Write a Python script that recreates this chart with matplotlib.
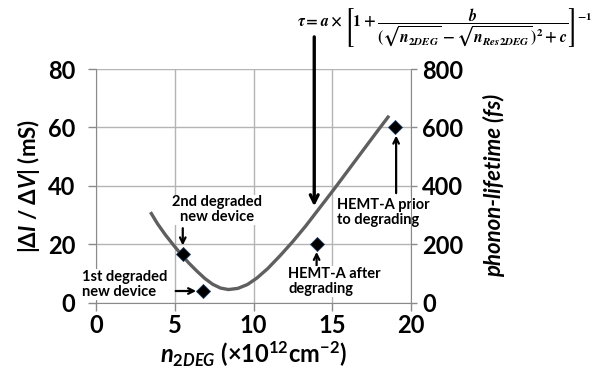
import matplotlib.pyplot as plt

plt.rcParams["font.family"] = ["Lato", "DejaVu Sans"]
plt.rcParams["font.weight"] = "bold"
plt.rcParams["axes.labelweight"] = "bold"
plt.rcParams["mathtext.fontset"] = "custom"
plt.rcParams["mathtext.it"] = "Lato:italic:bold"
plt.rcParams["mathtext.rm"] = "Lato:bold"
plt.rcParams["mathtext.bf"] = "Lato:bold"

# measured devices, |dI/dV| in mS (left axis)
device_n = [6.8, 5.5, 14.0, 19.0]
device_didv = [4.0, 16.5, 20.0, 60.0]

# fitted phonon lifetime, fs (right axis)
fit_n = [3.45, 3.9, 4.4, 4.9, 5.4, 5.9, 6.4, 6.9, 7.4, 7.9, 8.4, 9.0,
         9.6, 10.2, 10.9, 11.7, 12.5, 13.3, 14.2, 15.1, 16.0, 16.9, 17.8, 18.6]
fit_tau = [310, 270, 232, 198, 165, 135, 108, 83, 63, 50, 45, 49,
           62, 84, 117, 162, 210, 262, 325, 388, 453, 518, 583, 640]

x_ticks = [0, 5, 10, 15, 20]
left_ticks = [0, 20, 40, 60, 80]
right_ticks = [0, 200, 400, 600, 800]

GRID = "#b4b4b4"
SPINE = "#8a8a8a"

fig = plt.figure(figsize=(6.01, 3.73), dpi=100)
ax = fig.add_axes([0.16, 0.1885, 0.524, 0.6265])
ax2 = ax.twinx()

ax.set_xlim(0, 20)
ax.set_ylim(0, 80)
ax2.set_ylim(0, 800)
ax.set_xticks(x_ticks)
ax.set_yticks(left_ticks)
ax2.set_yticks(right_ticks)

ax.grid(True, color=GRID, lw=1)
ax.set_axisbelow(True)
for s in ["top", "right"]:
    ax.spines[s].set_visible(False)
for s in ["top", "left", "bottom"]:
    ax2.spines[s].set_visible(False)
for s in ["left", "bottom"]:
    ax.spines[s].set_color(SPINE)
ax2.spines["right"].set_color(SPINE)

ax.tick_params(axis="both", labelsize=17, color=SPINE, length=6, width=1)
ax.tick_params(axis="y", pad=9)
ax.tick_params(axis="x", pad=2)
ax2.tick_params(axis="y", labelsize=17, color=SPINE, length=4, width=1, pad=4)

# fit curve drawn with the right-axis scale
ax.plot(fit_n, fit_tau, color="#5f5f5f", lw=2.4, transform=ax2.transData,
        solid_capstyle="butt", zorder=3)
ax.plot(device_n, device_didv, "D", color="black", ms=7.5, mec="#1f3a5f",
        mew=0.6, zorder=4, clip_on=False)

box = dict(facecolor="white", edgecolor="none", pad=0.5)
arrow = dict(arrowstyle="->", color="black", lw=1.6, shrinkA=0, shrinkB=0)
note = dict(fontsize=10.5, fontweight="bold", va="center", linespacing=1.1,
            bbox=box)

ax.annotate("", xy=(6.35, 4.0), xytext=(5.05, 4.0), arrowprops=arrow)
ax.text(-0.9, 6.2, "1st degraded\nnew device", ha="left", **note)

ax.annotate("", xy=(5.5, 19.6), xytext=(5.5, 25.5), arrowprops=arrow)
ax.text(7.7, 31.8, "2nd degraded\nnew device", ha="center", **note)

ax.annotate("", xy=(14.0, 17.4), xytext=(14.0, 12.4), arrowprops=arrow)
ax.text(12.2, 7.2, "HEMT-A after\ndegrading", ha="left", **note)

ax.annotate("", xy=(19.05, 57.2), xytext=(19.05, 37.5), arrowprops=arrow)
ax.text(15.3, 30.8, "HEMT-A prior\nto degrading", ha="left", **note)

ax.annotate("", xy=(13.85, 33.0), xytext=(13.85, 91.0), annotation_clip=False,
            arrowprops=dict(arrowstyle="->", color="black", lw=2.4,
                            shrinkA=0, shrinkB=0, mutation_scale=14))

fig.text(0.74, 0.925,
         r"$\tau = a \times \left[1+\dfrac{b}{(\sqrt{n_{2DEG}}-\sqrt{n_{Res2DEG}})^2+c}\right]^{-1}$",
         fontsize=11.3, ha="center", va="center", math_fontfamily="stix")

ax.set_ylabel(r"|$\Delta I$ / $\Delta V$| (mS)", fontsize=16, labelpad=4)
ax.set_xlabel(r"$n_{2DEG}$ (×10$^{12}$cm$^{-2}$)", fontsize=17, labelpad=2)
ax2.set_ylabel("phonon-lifetime (fs)", fontsize=16, style="italic",
               labelpad=14)

fig.savefig("out.png", dpi=100)
